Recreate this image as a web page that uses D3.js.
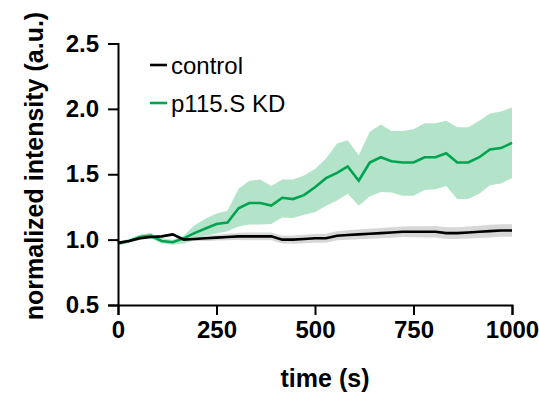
<!DOCTYPE html>
<html>
<head>
<meta charset="utf-8">
<script src="https://cdn.jsdelivr.net/npm/d3@7"></script>
<style>
  html, body { margin: 0; padding: 0; background: #fff; }
  svg { display: block; font-family: "Liberation Sans", Arial, sans-serif; }
</style>
</head>
<body>
<svg id="chart" width="539" height="398"></svg>
<script>
// ---- data ----
const times = [0, 28, 56, 83, 111, 139, 167, 194, 222, 250, 278, 306, 333, 361, 389, 417, 444, 472, 500,
  528, 556, 583, 611, 639, 667, 694, 722, 750, 778, 806, 833, 861, 889, 917, 944, 972, 1000];

const kdMean = [0.97, 0.99, 1.02, 1.03, 0.99, 0.98, 1.01, 1.05, 1.085, 1.12, 1.13, 1.24, 1.28, 1.28, 1.26,
  1.32, 1.31, 1.34, 1.40, 1.47, 1.51, 1.56, 1.45, 1.59, 1.63, 1.60, 1.59, 1.59, 1.63, 1.63, 1.66, 1.59,
  1.59, 1.63, 1.69, 1.70, 1.74];
const kdUpper = [0.985, 1.005, 1.04, 1.05, 1.01, 1.00, 1.03, 1.11, 1.16, 1.20, 1.22, 1.39, 1.45, 1.46, 1.41,
  1.46, 1.46, 1.49, 1.54, 1.62, 1.735, 1.76, 1.645, 1.825, 1.88, 1.83, 1.83, 1.845, 1.89, 1.89, 1.91, 1.86,
  1.86, 1.91, 1.965, 1.98, 2.01];
const kdLower = [0.955, 0.975, 1.00, 1.01, 0.97, 0.96, 0.97, 0.995, 1.03, 1.046, 1.064, 1.10, 1.115, 1.115,
  1.12, 1.17, 1.166, 1.19, 1.21, 1.26, 1.30, 1.35, 1.26, 1.33, 1.365, 1.36, 1.335, 1.335, 1.38, 1.385, 1.41,
  1.31, 1.31, 1.35, 1.415, 1.43, 1.47];

const ctrlMean = [0.975, 0.99, 1.01, 1.02, 1.025, 1.04, 1.0, 1.005, 1.01, 1.015, 1.02, 1.025, 1.025, 1.025,
  1.025, 1.0, 1.0, 1.005, 1.01, 1.01, 1.03, 1.035, 1.04, 1.045, 1.05, 1.055, 1.06, 1.06, 1.06, 1.06, 1.05,
  1.05, 1.055, 1.06, 1.065, 1.07, 1.07];
const ctrlErr = [0.008, 0.008, 0.01, 0.01, 0.01, 0.01, 0.012, 0.015, 0.02, 0.022, 0.025, 0.027, 0.03, 0.03,
  0.03, 0.03, 0.032, 0.032, 0.033, 0.034, 0.035, 0.036, 0.037, 0.038, 0.039, 0.04, 0.04, 0.042, 0.043, 0.044,
  0.045, 0.045, 0.046, 0.047, 0.048, 0.048, 0.048];

const xTicks = [0, 250, 500, 750, 1000];
const yTicks = [0.5, 1.0, 1.5, 2.0, 2.5];
const seriesNames = ["control", "p115.S KD"];
const seriesColors = ["#000000", "#00a34f"];
const bandColors = ["#d7d7d7", "#b3e4ca"];

// ---- drawing ----
const svg = d3.select("#chart");
const x = d3.scaleLinear().domain([0, 1000]).range([118, 512]);
const y = d3.scaleLinear().domain([0.5, 2.5]).range([305, 43.5]);

const ctrl = times.map((t, i) => ({t, m: ctrlMean[i], lo: ctrlMean[i] - ctrlErr[i], hi: ctrlMean[i] + ctrlErr[i]}));
const kd = times.map((t, i) => ({t, m: kdMean[i], lo: kdLower[i], hi: kdUpper[i]}));

const area = d3.area().x(d => x(d.t)).y0(d => y(d.lo)).y1(d => y(d.hi));
const line = d3.line().x(d => x(d.t)).y(d => y(d.m));

svg.append("path").datum(ctrl).attr("d", area).attr("fill", bandColors[0]);
svg.append("path").datum(kd).attr("d", area).attr("fill", bandColors[1]);
svg.append("path").datum(kd).attr("d", line).attr("fill", "none")
  .attr("stroke", seriesColors[1]).attr("stroke-width", 2.6).attr("stroke-linejoin", "miter");
svg.append("path").datum(ctrl).attr("d", line).attr("fill", "none")
  .attr("stroke", seriesColors[0]).attr("stroke-width", 2.6);

// axes
const xAxis = svg.append("g").attr("transform", "translate(0,305)")
  .call(d3.axisBottom(x).tickValues(xTicks).tickSizeOuter(0).tickSize(10).tickPadding(6).tickFormat(d3.format("d")));
const yAxis = svg.append("g").attr("transform", "translate(118,0)")
  .call(d3.axisLeft(y).tickValues(yTicks).tickSizeOuter(0).tickSize(10).tickPadding(9).tickFormat(d3.format(".1f")));

[xAxis, yAxis].forEach(g => {
  g.select(".domain").attr("stroke", "#000").attr("stroke-width", 2);
  g.selectAll(".tick line").attr("stroke", "#000").attr("stroke-width", 2);
  g.selectAll(".tick text").attr("fill", "#000")
    .style("font-family", "'Liberation Sans', Arial, sans-serif")
    .style("font-size", "24px").style("font-weight", "bold");
});
xAxis.selectAll(".tick text").attr("dy", "0.71em");

// axis titles
svg.append("text").attr("x", 325).attr("y", 387).attr("text-anchor", "middle")
  .style("font-size", "25px").style("font-weight", "bold").text("time (s)");
svg.append("text").attr("transform", "translate(43,166) rotate(-90)").attr("text-anchor", "middle")
  .style("font-size", "25px").style("font-weight", "bold").text("normalized intensity (a.u.)");

// legend
const legY = [65, 103];
seriesNames.forEach((name, i) => {
  svg.append("line").attr("x1", 150).attr("x2", 167).attr("y1", legY[i]).attr("y2", legY[i])
    .attr("stroke", seriesColors[i]).attr("stroke-width", 2.6);
  svg.append("text").attr("x", 171).attr("y", legY[i] + 8.5)
    .style("font-size", "24px").text(name);
});
</script>
</body>
</html>
